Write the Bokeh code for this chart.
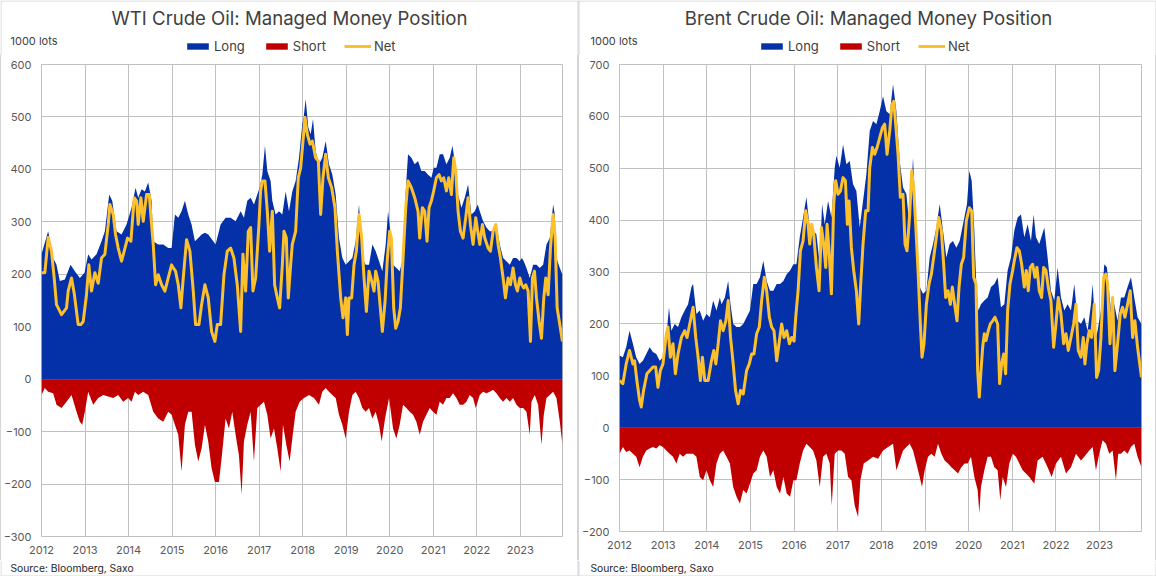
from bokeh.plotting import figure
from bokeh.models import Range1d, FixedTicker, Legend, LegendItem, Label
from bokeh.layouts import row, column
from bokeh.embed import file_html
from bokeh.resources import INLINE

# ---------------- data (1000 lots, dates as decimal years) ----------------
year_ticks = list(range(2012, 2024))
wti_y_ticks = list(range(-300, 601, 100))
brent_y_ticks = list(range(-200, 701, 100))

wti_long_t = [2012.000, 2012.153, 2012.268, 2012.345, 2012.421, 2012.536, 2012.667, 2012.766, 2012.881, 2012.989,
              2013.073, 2013.149, 2013.264, 2013.379, 2013.456, 2013.556, 2013.625, 2013.724, 2013.839, 2013.954,
              2014.069, 2014.161, 2014.222, 2014.299, 2014.375, 2014.452, 2014.529, 2014.567, 2014.682, 2014.797, 2014.912, 2014.989,
              2015.065, 2015.142, 2015.218, 2015.295, 2015.372, 2015.448, 2015.525, 2015.602, 2015.678, 2015.755, 2015.831, 2015.946,
              2016.000, 2016.115, 2016.230, 2016.345, 2016.460, 2016.575, 2016.651, 2016.728, 2016.805, 2016.881, 2016.958,
              2017.011, 2017.073, 2017.134, 2017.188, 2017.264, 2017.303, 2017.379, 2017.456, 2017.533, 2017.609, 2017.686, 2017.762, 2017.839, 2017.916, 2017.992,
              2018.023, 2018.069, 2018.130, 2018.184, 2018.238, 2018.299, 2018.375, 2018.452, 2018.529, 2018.605, 2018.682, 2018.759, 2018.835, 2018.912, 2018.989,
              2019.065, 2019.142, 2019.218, 2019.295, 2019.372, 2019.448, 2019.525, 2019.602, 2019.678, 2019.755, 2019.831, 2019.908, 2019.962,
              2020.015, 2020.077, 2020.153, 2020.230, 2020.307, 2020.368, 2020.421, 2020.498, 2020.575, 2020.651, 2020.728, 2020.805, 2020.881, 2020.958,
              2021.011, 2021.073, 2021.149, 2021.226, 2021.303, 2021.379, 2021.441, 2021.494, 2021.571, 2021.648, 2021.724, 2021.801, 2021.877, 2021.954,
              2022.023, 2022.069, 2022.146, 2022.222, 2022.299, 2022.375, 2022.452, 2022.529, 2022.605, 2022.682, 2022.759, 2022.835, 2022.912, 2022.989,
              2023.034, 2023.080, 2023.142, 2023.218, 2023.295, 2023.372, 2023.448, 2023.525, 2023.602, 2023.678, 2023.755, 2023.793, 2023.831, 2023.908, 2023.969]
wti_long = [238, 282, 231, 218, 187, 190, 218, 206, 193, 203,
            238, 228, 238, 263, 282, 352, 340, 282, 276, 295,
            327, 365, 346, 362, 358, 375, 340, 263, 257, 257, 250, 250,
            314, 308, 320, 340, 314, 295, 263, 269, 276, 279, 276, 263,
            257, 295, 308, 308, 301, 320, 308, 340, 346, 333, 352,
            365, 390, 445, 397, 378, 340, 314, 320, 314, 358, 320, 358, 378, 422, 486,
            499, 534, 480, 467, 496, 435, 410, 422, 454, 410, 390, 352, 269, 231, 218,
            225, 231, 263, 333, 231, 218, 218, 257, 244, 225, 206, 257, 320,
            282, 218, 212, 206, 231, 359, 429, 422, 410, 416, 397, 397, 390, 384,
            403, 403, 429, 429, 410, 422, 445, 416, 352, 327, 346, 371, 314, 320,
            333, 320, 301, 289, 282, 282, 295, 257, 231, 225, 218, 231, 231, 225,
            231, 225, 212, 193, 218, 218, 212, 218, 257, 269, 333, 314, 231, 212, 199]

wti_net_t = [2012.000, 2012.077, 2012.153, 2012.230, 2012.291, 2012.345, 2012.460, 2012.575, 2012.613, 2012.690, 2012.751, 2012.843, 2012.904, 2012.958,
             2013.034, 2013.088, 2013.149, 2013.226, 2013.303, 2013.379, 2013.456, 2013.533, 2013.571, 2013.648, 2013.701, 2013.762, 2013.839, 2013.900, 2013.977,
             2014.054, 2014.130, 2014.184, 2014.222, 2014.284, 2014.337, 2014.414, 2014.475, 2014.529, 2014.567, 2014.621, 2014.682, 2014.759, 2014.835, 2014.912, 2014.989,
             2015.027, 2015.080, 2015.142, 2015.203, 2015.257, 2015.333, 2015.410, 2015.487, 2015.540, 2015.617, 2015.678, 2015.755, 2015.831, 2015.908, 2015.985,
             2016.038, 2016.115, 2016.192, 2016.268, 2016.345, 2016.421, 2016.498, 2016.575, 2016.628, 2016.690, 2016.751, 2016.805, 2016.858, 2016.920, 2016.996,
             2017.034, 2017.073, 2017.134, 2017.188, 2017.241, 2017.303, 2017.356, 2017.418, 2017.471, 2017.533, 2017.571, 2017.625, 2017.670, 2017.724, 2017.762, 2017.839, 2017.900, 2017.954, 2018.008,
             2018.054, 2018.107, 2018.169, 2018.222, 2018.299, 2018.360, 2018.414, 2018.467, 2018.529, 2018.590, 2018.667, 2018.743, 2018.797, 2018.874, 2018.927, 2018.989,
             2019.027, 2019.065, 2019.126, 2019.180, 2019.234, 2019.295, 2019.356, 2019.410, 2019.464, 2019.525, 2019.586, 2019.640, 2019.678, 2019.732, 2019.778, 2019.831, 2019.893, 2019.946,
             2020.000, 2020.038, 2020.092, 2020.138, 2020.192, 2020.245, 2020.307, 2020.368, 2020.421, 2020.498, 2020.575, 2020.651, 2020.690, 2020.751, 2020.805, 2020.858, 2020.904, 2020.958,
             2021.011, 2021.073, 2021.134, 2021.188, 2021.241, 2021.303, 2021.356, 2021.418, 2021.471, 2021.517, 2021.571, 2021.625, 2021.686, 2021.747, 2021.801, 2021.854, 2021.916, 2021.977,
             2022.023, 2022.069, 2022.130, 2022.184, 2022.261, 2022.314, 2022.375, 2022.437, 2022.490, 2022.544, 2022.605, 2022.659, 2022.720, 2022.774, 2022.835, 2022.889, 2022.935, 2022.989,
             2023.034, 2023.080, 2023.126, 2023.180, 2023.234, 2023.280, 2023.326, 2023.372, 2023.433, 2023.487, 2023.540, 2023.586, 2023.640, 2023.693, 2023.755, 2023.801, 2023.847, 2023.908, 2023.969]
wti_net = [203, 203, 270, 244, 193, 142, 123, 136, 168, 193, 164, 104, 104, 110,
           161, 218, 168, 203, 183, 231, 238, 295, 333, 314, 276, 250, 225, 244, 269,
           263, 346, 340, 295, 346, 301, 352, 352, 295, 257, 180, 199, 180, 168, 193, 218,
           212, 206, 180, 136, 193, 266, 244, 168, 104, 104, 142, 180, 155, 91, 72,
           104, 104, 199, 244, 250, 231, 180, 91, 238, 168, 282, 289, 168, 193, 295,
           359, 378, 378, 320, 244, 320, 180, 155, 136, 218, 282, 269, 155, 218, 257, 282, 384, 403, 454,
           499, 467, 448, 454, 422, 416, 314, 384, 429, 384, 365, 327, 244, 155, 117, 155,
           85, 155, 155, 218, 244, 314, 269, 193, 129, 206, 187, 168, 206, 187, 142, 91, 148, 230,
           282, 269, 136, 97, 110, 136, 231, 327, 378, 365, 346, 320, 269, 327, 320, 263, 327, 340,
           359, 384, 390, 378, 384, 359, 384, 352, 422, 397, 320, 282, 269, 308, 346, 295, 257, 308,
           282, 257, 295, 269, 250, 244, 282, 295, 257, 231, 193, 155, 193, 180, 212, 180, 168, 193,
           180, 174, 180, 168, 72, 193, 206, 155, 110, 78, 155, 193, 161, 250, 314, 269, 136, 104, 72]

wti_short_t = [2012.000, 2012.077, 2012.153, 2012.268, 2012.345, 2012.460, 2012.575, 2012.690, 2012.805, 2012.881, 2012.935, 2012.996,
               2013.073, 2013.188, 2013.303, 2013.418, 2013.533, 2013.648, 2013.762, 2013.877, 2013.992,
               2014.069, 2014.146, 2014.222, 2014.337, 2014.452, 2014.567, 2014.682, 2014.797, 2014.912, 2014.989,
               2015.065, 2015.142, 2015.218, 2015.295, 2015.372, 2015.448, 2015.525, 2015.602, 2015.678, 2015.755, 2015.831, 2015.908, 2015.985,
               2016.077, 2016.138, 2016.230, 2016.307, 2016.383, 2016.460, 2016.536, 2016.598, 2016.651, 2016.728, 2016.805, 2016.881, 2016.958,
               2017.034, 2017.111, 2017.188, 2017.264, 2017.341, 2017.418, 2017.494, 2017.548, 2017.625, 2017.701, 2017.762, 2017.839, 2017.931,
               2018.031, 2018.146, 2018.261, 2018.375, 2018.452, 2018.529, 2018.605, 2018.682, 2018.759, 2018.835, 2018.912, 2018.989,
               2019.065, 2019.142, 2019.218, 2019.295, 2019.372, 2019.448, 2019.525, 2019.602, 2019.678, 2019.755, 2019.816, 2019.893, 2019.985,
               2020.077, 2020.153, 2020.230, 2020.307, 2020.383, 2020.460, 2020.536, 2020.613, 2020.690, 2020.766, 2020.843, 2020.920, 2020.996,
               2021.073, 2021.149, 2021.226, 2021.303, 2021.379, 2021.456, 2021.533, 2021.609, 2021.686, 2021.762, 2021.839, 2021.916, 2021.977,
               2022.069, 2022.146, 2022.222, 2022.299, 2022.375, 2022.452, 2022.529, 2022.605, 2022.682, 2022.759, 2022.835, 2022.912, 2022.989,
               2023.065, 2023.142, 2023.218, 2023.257, 2023.333, 2023.410, 2023.487, 2023.540, 2023.602, 2023.678, 2023.755, 2023.831, 2023.908, 2023.969]
wti_short = [-30, -17, -24, -27, -49, -55, -43, -30, -62, -81, -87, -62,
             -24, -49, -36, -30, -33, -36, -30, -43, -36,
             -43, -24, -30, -24, -30, -62, -75, -81, -62, -68,
             -87, -106, -176, -87, -62, -62, -125, -157, -132, -87, -119, -170, -196,
             -196, -151, -75, -94, -62, -106, -145, -220, -119, -87, -62, -157, -55,
             -49, -43, -68, -113, -94, -132, -176, -87, -125, -157, -113, -62, -43,
             -36, -30, -36, -49, -24, -17, -24, -30, -36, -68, -87, -113,
             -62, -30, -24, -36, -55, -62, -55, -75, -62, -87, -119, -75, -36,
             -94, -113, -87, -49, -55, -62, -68, -81, -106, -81, -68, -55, -62,
             -68, -43, -49, -36, -36, -27, -36, -49, -49, -43, -30, -36, -55,
             -30, -24, -27, -24, -20, -27, -36, -43, -36, -43, -36, -49, -55,
             -55, -62, -106, -43, -30, -49, -125, -68, -36, -30, -24, -36, -81, -125]

brent_long_t = [2012.000, 2012.077, 2012.153, 2012.230, 2012.307, 2012.383, 2012.460, 2012.536, 2012.613, 2012.690, 2012.766, 2012.843, 2012.920, 2012.996,
                2013.073, 2013.134, 2013.188, 2013.264, 2013.341, 2013.418, 2013.494, 2013.571, 2013.648, 2013.686, 2013.762, 2013.839, 2013.916, 2013.992,
                2014.069, 2014.146, 2014.222, 2014.299, 2014.337, 2014.414, 2014.490, 2014.544, 2014.605, 2014.682, 2014.759, 2014.835, 2014.912, 2014.989,
                2015.065, 2015.142, 2015.218, 2015.295, 2015.372, 2015.448, 2015.525, 2015.602, 2015.678, 2015.755, 2015.831, 2015.908, 2015.985,
                2016.053, 2016.130, 2016.206, 2016.282, 2016.359, 2016.435, 2016.511, 2016.588, 2016.641, 2016.702, 2016.779, 2016.855, 2016.931, 2016.969,
                2017.046, 2017.122, 2017.198, 2017.275, 2017.351, 2017.427, 2017.504, 2017.580, 2017.656, 2017.733, 2017.809, 2017.885, 2017.962,
                2018.038, 2018.115, 2018.191, 2018.267, 2018.344, 2018.420, 2018.496, 2018.573, 2018.649, 2018.725, 2018.802, 2018.878, 2018.954,
                2019.031, 2019.107, 2019.183, 2019.260, 2019.336, 2019.412, 2019.489, 2019.565, 2019.641, 2019.718, 2019.794, 2019.962,
                2020.015, 2020.069, 2020.130, 2020.168, 2020.221, 2020.282, 2020.359, 2020.435, 2020.511, 2020.588, 2020.664, 2020.740, 2020.817, 2020.893, 2020.969,
                2021.046, 2021.122, 2021.198, 2021.275, 2021.351, 2021.427, 2021.489, 2021.542, 2021.618, 2021.733, 2021.809, 2021.885, 2021.962,
                2022.038, 2022.115, 2022.191, 2022.267, 2022.344, 2022.420, 2022.496, 2022.573, 2022.649, 2022.725, 2022.802, 2022.840, 2022.916, 2022.954,
                2023.031, 2023.107, 2023.168, 2023.260, 2023.336, 2023.412, 2023.489, 2023.565, 2023.641, 2023.718, 2023.794, 2023.870, 2023.960]
brent_long = [139, 136, 155, 187, 162, 136, 123, 129, 142, 155, 146, 142, 129, 136,
              174, 232, 187, 200, 194, 213, 226, 238, 271, 277, 219, 226, 206, 219,
              213, 245, 226, 251, 238, 251, 283, 238, 200, 194, 194, 200, 213, 226,
              277, 277, 290, 322, 283, 264, 264, 277, 277, 283, 296, 303, 315,
              315, 367, 405, 444, 386, 380, 373, 315, 431, 392, 437, 405, 501, 524,
              501, 546, 508, 514, 469, 456, 386, 437, 488, 572, 591, 585, 610,
              639, 610, 604, 662, 610, 514, 463, 450, 386, 521, 380, 271, 258,
              264, 328, 354, 386, 431, 380, 328, 354, 360, 347, 360, 431,
              495, 476, 380, 290, 226, 238, 245, 251, 271, 277, 290, 232, 238, 303, 328,
              380, 405, 411, 367, 392, 360, 411, 367, 354, 386, 328, 264, 245,
              309, 251, 226, 238, 226, 277, 206, 200, 213, 187, 238, 277, 174, 187,
              226, 315, 309, 226, 238, 206, 251, 251, 271, 290, 251, 213, 200]

brent_net_t = [2012.000, 2012.077, 2012.153, 2012.230, 2012.307, 2012.345, 2012.398, 2012.460, 2012.498, 2012.552, 2012.628, 2012.690, 2012.766, 2012.828, 2012.881, 2012.935, 2012.996,
               2013.073, 2013.111, 2013.165, 2013.226, 2013.280, 2013.341, 2013.418, 2013.494, 2013.548, 2013.609, 2013.686, 2013.747, 2013.801, 2013.854, 2013.900, 2013.954,
               2014.031, 2014.107, 2014.161, 2014.207, 2014.261, 2014.314, 2014.375, 2014.437, 2014.490, 2014.544, 2014.605, 2014.659, 2014.720, 2014.774, 2014.835, 2014.912, 2014.973,
               2015.027, 2015.080, 2015.142, 2015.203, 2015.257, 2015.318, 2015.372, 2015.433, 2015.487, 2015.540, 2015.602, 2015.663, 2015.716, 2015.770, 2015.831, 2015.893, 2015.946, 2016.000,
               2016.038, 2016.092, 2016.145, 2016.206, 2016.267, 2016.321, 2016.359, 2016.405, 2016.450, 2016.511, 2016.573, 2016.626, 2016.679, 2016.725, 2016.756, 2016.802, 2016.855, 2016.908, 2016.954,
               2017.008, 2017.061, 2017.122, 2017.176, 2017.221, 2017.260, 2017.313, 2017.366, 2017.427, 2017.481, 2017.527, 2017.580, 2017.641, 2017.695, 2017.733, 2017.794, 2017.847, 2017.901, 2017.962,
               2018.023, 2018.076, 2018.130, 2018.191, 2018.244, 2018.282, 2018.328, 2018.382, 2018.435, 2018.496, 2018.542, 2018.588, 2018.649, 2018.695, 2018.740, 2018.786, 2018.840, 2018.893, 2018.931, 2018.977,
               2019.031, 2019.092, 2019.145, 2019.198, 2019.260, 2019.313, 2019.374, 2019.427, 2019.473, 2019.527, 2019.580, 2019.626, 2019.679, 2019.733, 2019.779, 2019.832, 2019.885, 2019.947,
               2020.015, 2020.069, 2020.115, 2020.168, 2020.206, 2020.244, 2020.282, 2020.321, 2020.359, 2020.397, 2020.450, 2020.496, 2020.550, 2020.603, 2020.664, 2020.710, 2020.756, 2020.802, 2020.847, 2020.893, 2020.947,
               2021.008, 2021.046, 2021.107, 2021.160, 2021.214, 2021.275, 2021.321, 2021.366, 2021.412, 2021.466, 2021.519, 2021.565, 2021.618, 2021.672, 2021.718, 2021.771, 2021.824, 2021.885, 2021.947,
               2022.000, 2022.053, 2022.115, 2022.176, 2022.229, 2022.282, 2022.344, 2022.405, 2022.458, 2022.511, 2022.573, 2022.626, 2022.664, 2022.710, 2022.763, 2022.817, 2022.878, 2022.931, 2022.977,
               2023.031, 2023.092, 2023.145, 2023.183, 2023.237, 2023.298, 2023.351, 2023.412, 2023.473, 2023.527, 2023.580, 2023.641, 2023.702, 2023.756, 2023.809, 2023.870, 2023.960]
brent_net = [91, 85, 123, 149, 123, 129, 91, 53, 40, 72, 104, 110, 117, 117, 78, 110, 123,
             181, 194, 136, 162, 104, 142, 174, 187, 174, 200, 232, 174, 136, 91, 136, 91,
             91, 129, 149, 123, 162, 206, 187, 206, 245, 174, 123, 72, 46, 72, 65, 110, 123,
             142, 142, 181, 194, 245, 290, 264, 213, 194, 187, 129, 167, 200, 174, 187, 162, 174, 167,
             213, 264, 341, 360, 418, 392, 354, 392, 373, 309, 264, 386, 354, 309, 392, 341, 258, 431, 476,
             450, 456, 482, 476, 392, 437, 347, 303, 264, 200, 277, 354, 418, 418, 501, 540, 527, 540, 559,
             578, 585, 527, 572, 623, 629, 585, 527, 444, 450, 354, 341, 411, 495, 463, 392, 303, 200, 136, 162,
             238, 277, 296, 328, 367, 405, 380, 315, 251, 264, 238, 271, 238, 206, 271, 315, 328, 399,
             424, 418, 290, 277, 110, 59, 110, 155, 181, 168, 187, 200, 206, 213, 200, 85, 123, 142, 104, 226, 277,
             303, 322, 347, 341, 315, 271, 303, 264, 309, 315, 290, 309, 264, 251, 309, 303, 271, 245, 155,
             200, 251, 219, 162, 181, 149, 174, 200, 238, 149, 136, 174, 123, 162, 187, 174, 238, 97, 110,
             174, 290, 296, 277, 162, 251, 110, 162, 219, 232, 213, 238, 264, 174, 206, 155, 97]

brent_short_t = [2012.000, 2012.077, 2012.153, 2012.230, 2012.307, 2012.383, 2012.460, 2012.536, 2012.613, 2012.690, 2012.766, 2012.843, 2012.920, 2012.996,
                 2013.073, 2013.149, 2013.226, 2013.303, 2013.379, 2013.456, 2013.533, 2013.609, 2013.686, 2013.762, 2013.839, 2013.916, 2013.992,
                 2014.069, 2014.146, 2014.222, 2014.299, 2014.375, 2014.452, 2014.529, 2014.605, 2014.682, 2014.759, 2014.835, 2014.912, 2014.989,
                 2015.065, 2015.142, 2015.218, 2015.295, 2015.372, 2015.448, 2015.525, 2015.602, 2015.678, 2015.755, 2015.831, 2015.908, 2015.985,
                 2016.053, 2016.130, 2016.206, 2016.282, 2016.359, 2016.435, 2016.511, 2016.588, 2016.664, 2016.740, 2016.817, 2016.863, 2016.931,
                 2017.008, 2017.084, 2017.160, 2017.237, 2017.313, 2017.389, 2017.466, 2017.519, 2017.595, 2017.695, 2017.809, 2017.924,
                 2018.038, 2018.153, 2018.267, 2018.344, 2018.420, 2018.496, 2018.573, 2018.649, 2018.725, 2018.802, 2018.878, 2018.931, 2018.992,
                 2019.069, 2019.145, 2019.221, 2019.298, 2019.374, 2019.450, 2019.527, 2019.603, 2019.679, 2019.756, 2019.832, 2019.908, 2019.977,
                 2020.053, 2020.130, 2020.206, 2020.244, 2020.282, 2020.359, 2020.435, 2020.511, 2020.588, 2020.664, 2020.725, 2020.779, 2020.855, 2020.931,
                 2021.008, 2021.084, 2021.160, 2021.237, 2021.313, 2021.389, 2021.504, 2021.580, 2021.695, 2021.809, 2021.901,
                 2022.000, 2022.115, 2022.229, 2022.344, 2022.458, 2022.573, 2022.649, 2022.763, 2022.840, 2022.916, 2022.992,
                 2023.069, 2023.145, 2023.221, 2023.298, 2023.374, 2023.427, 2023.489, 2023.565, 2023.641, 2023.718, 2023.794, 2023.870, 2023.960]
brent_short = [-50, -37, -47, -44, -50, -56, -76, -56, -44, -40, -37, -40, -34, -37,
               -44, -50, -56, -69, -50, -56, -50, -50, -50, -56, -95, -101, -82,
               -101, -114, -69, -50, -44, -56, -69, -114, -133, -146, -120, -127, -108,
               -88, -82, -56, -44, -56, -95, -82, -114, -127, -95, -127, -133, -101,
               -101, -69, -44, -31, -37, -44, -63, -114, -56, -50, -69, -150, -50,
               -44, -44, -50, -95, -101, -150, -172, -101, -69, -63, -56, -60,
               -44, -37, -31, -82, -63, -44, -37, -31, -44, -69, -95, -114, -82,
               -56, -50, -56, -31, -50, -63, -69, -76, -82, -88, -76, -69, -69,
               -56, -95, -120, -165, -114, -82, -56, -56, -76, -82, -140, -95, -114, -69,
               -50, -56, -69, -82, -88, -95, -108, -63, -56, -76, -95,
               -69, -56, -88, -76, -50, -63, -56, -44, -37, -82, -50,
               -24, -31, -50, -44, -101, -50, -50, -44, -50, -37, -31, -56, -76]

# ---------------- styling ----------------
BLUE = "#0531A8"
RED = "#C00000"
YELLOW = "#FCC02C"
GRID = "#C0C0C0"
PANEL_EDGE = "#D4D4D4"
FONT = "Inter"
TOTAL_W = 1156
PW = 578          # one panel's width
HEAD_H = 55       # header strip height (titles, unit labels, legends)
FOOT_H = 16       # footer strip height (source notes)
MAIN_H = 576 - HEAD_H - FOOT_H


def strip(h):
    s = figure(width=TOTAL_W, height=h, output_backend="svg", toolbar_location=None,
               x_range=Range1d(0, TOTAL_W), y_range=Range1d(0, h),
               x_axis_location=None, y_axis_location=None,
               min_border=0, min_border_left=0, min_border_right=0, min_border_top=0, min_border_bottom=0,
               background_fill_color="white", border_fill_color="white")
    s.grid.visible = False
    s.outline_line_color = None
    # vertical panel edges
    s.segment(x0=[0.5, PW - 0.5, PW + 0.5, TOTAL_W - 0.5], y0=[0] * 4,
              x1=[0.5, PW - 0.5, PW + 0.5, TOTAL_W - 0.5], y1=[h] * 4,
              line_color=PANEL_EDGE, line_width=1)
    return s


# ---------------- header ----------------
head = strip(HEAD_H)
head.segment(x0=[0], y0=[HEAD_H - 0.5], x1=[TOTAL_W], y1=[HEAD_H - 0.5], line_color=PANEL_EDGE, line_width=1)
dummy_x = [-60, -50]
g_long = head.varea(x=dummy_x, y1=[0, 0], y2=[1, 1], fill_color=BLUE)
g_short = head.varea(x=dummy_x, y1=[0, 0], y2=[1, 1], fill_color=RED)
g_net = head.line(x=dummy_x, y=[0, 0], line_color=YELLOW, line_width=3)

titles = ["WTI Crude Oil: Managed Money Position", "Brent Crude Oil: Managed Money Position"]
title_x = [289, 868]
units_x = [10, 590]
legend_x = [184, 758]
for t, tx, ux, lx in zip(titles, title_x, units_x, legend_x):
    head.add_layout(Label(x=tx, y=HEAD_H - 17, text=t, text_align="center", text_baseline="middle",
                          text_font=FONT, text_font_size="18.6px", text_color="#404040"))
    head.add_layout(Label(x=ux, y=HEAD_H - 40.5, text="1000 lots", text_align="left",
                          text_baseline="middle", text_font=FONT, text_font_size="11px",
                          text_color="#404040"))
    leg = Legend(items=[LegendItem(label="Long", renderers=[g_long]),
                        LegendItem(label="Short", renderers=[g_short]),
                        LegendItem(label="Net", renderers=[g_net])],
                 orientation="horizontal", location=(lx, HEAD_H - 46 - 8),
                 glyph_width=27, glyph_height=8, label_standoff=3, spacing=18,
                 padding=0, margin=0, label_text_font=FONT, label_text_font_size="13px",
                 label_text_color="#404040", background_fill_alpha=0, border_line_color=None,
                 label_height=16)
    head.add_layout(leg, "center")

# ---------------- footer ----------------
foot = strip(FOOT_H)
foot.segment(x0=[0], y0=[0.5], x1=[TOTAL_W], y1=[0.5], line_color=PANEL_EDGE, line_width=1)
for ux in units_x:
    foot.add_layout(Label(x=ux, y=FOOT_H - 7, text="Source: Bloomberg, Saxo", text_align="left",
                          text_baseline="middle", text_font=FONT, text_font_size="10.3px",
                          text_color="#262626"))


# ---------------- main charts ----------------
def make_chart(lt, lv, st, sv, nt, nv, yticks, x_end, mb):
    ml, mr, mt, mbot = mb
    p = figure(width=PW, height=MAIN_H, output_backend="svg", toolbar_location=None,
               x_range=Range1d(2012, x_end), y_range=Range1d(yticks[0], yticks[-1]),
               min_border_left=ml, min_border_right=mr, min_border_top=mt, min_border_bottom=mbot,
               background_fill_color="white", border_fill_alpha=0)
    p.varea(x=lt, y1=[0] * len(lt), y2=lv, fill_color=BLUE, fill_alpha=1.0)
    p.varea(x=st, y1=[0] * len(st), y2=sv, fill_color=RED, fill_alpha=1.0)
    p.line(nt, nv, line_color=YELLOW, line_width=3, line_join="round")

    p.xaxis.ticker = FixedTicker(ticks=year_ticks)
    p.yaxis.ticker = FixedTicker(ticks=yticks)
    for ax in (p.xaxis[0], p.yaxis[0]):
        ax.axis_line_color = None
        ax.major_tick_line_color = None
        ax.minor_tick_line_color = None
        ax.major_tick_out = 0
        ax.major_tick_in = 0
        ax.minor_tick_out = 0
        ax.major_label_text_font = FONT
        ax.major_label_text_font_size = "11px"
        ax.major_label_text_color = "#595959"
    p.yaxis.major_label_standoff = 10
    p.xaxis.major_label_standoff = 9
    p.xgrid.grid_line_color = GRID
    p.ygrid.grid_line_color = GRID
    p.xgrid.ticker = FixedTicker(ticks=year_ticks)
    p.ygrid.ticker = FixedTicker(ticks=yticks)
    p.outline_line_color = GRID
    p.outline_line_width = 1
    p.styles = {"box-shadow": f"inset 1px 0 0 {PANEL_EDGE}, inset -1px 0 0 {PANEL_EDGE}",
                "background-color": "white"}
    return p


p1 = make_chart(wti_long_t, wti_long, wti_short_t, wti_short, wti_net_t, wti_net,
                wti_y_ticks, 2023.97, (41, 16, 9, 24))
p2 = make_chart(brent_long_t, brent_long, brent_short_t, brent_short, brent_net_t, brent_net,
                brent_y_ticks, 2023.96, (41, 15, 9, 29))

# each chart sits in its own column so that the two frames keep their own heights
layout = column(head, row(column(p1), column(p2), spacing=0), foot, spacing=0)
open("out.html", "w").write(file_html(layout, INLINE))
